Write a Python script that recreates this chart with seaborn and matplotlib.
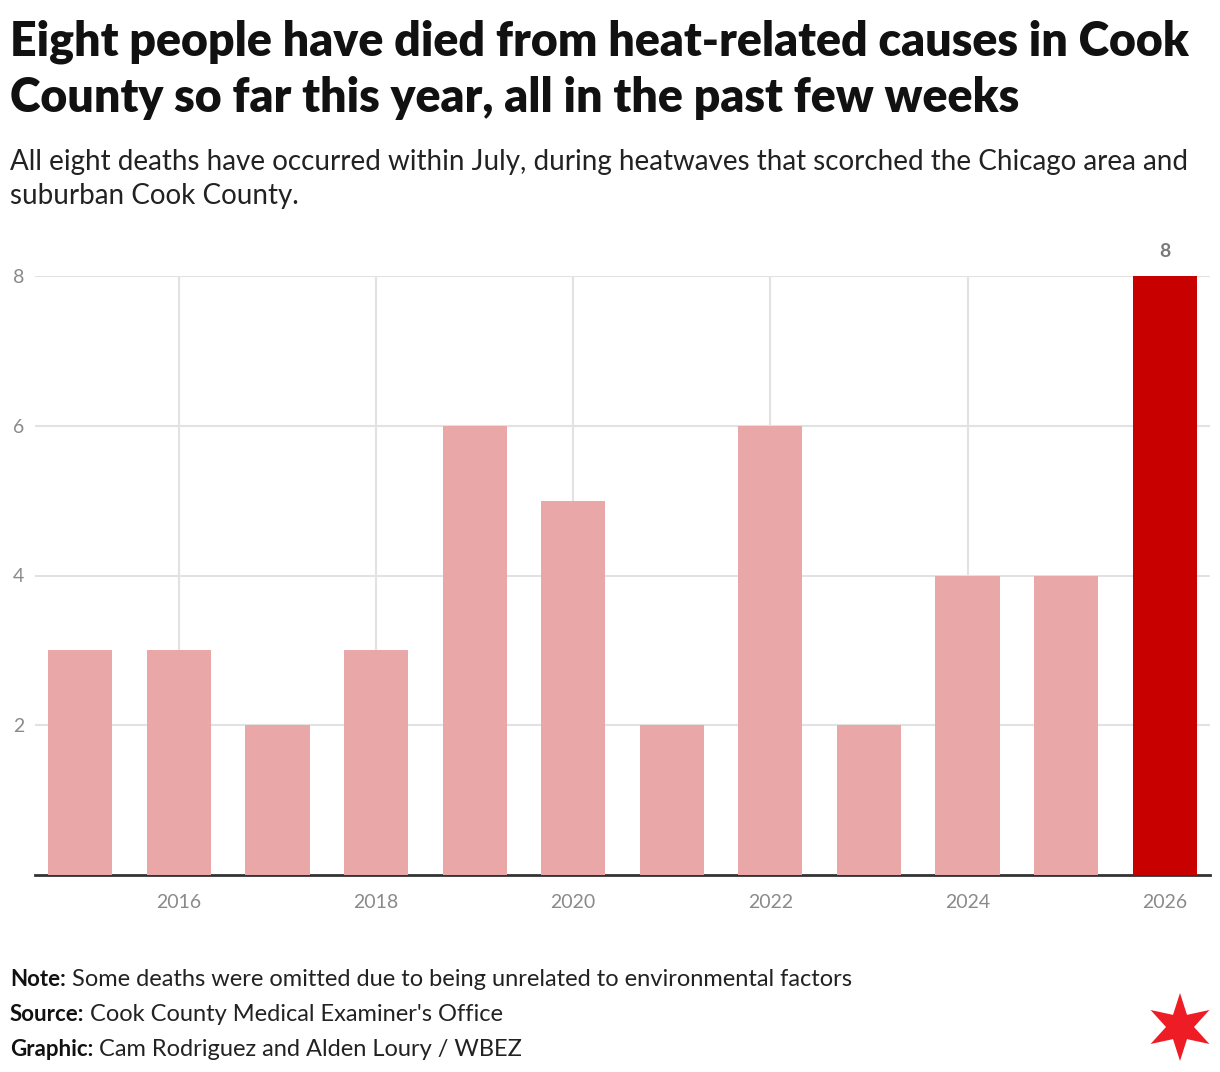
import numpy as np
import pandas as pd
import matplotlib
matplotlib.use("Agg")
import matplotlib.pyplot as plt
import seaborn as sns
from matplotlib.patches import Polygon

sns.set_style("white")
plt.rcParams['font.family'] = ['Lato', 'DejaVu Sans']

years = [2015, 2016, 2017, 2018, 2019, 2020, 2021, 2022, 2023, 2024, 2025, 2026]
deaths = [3, 3, 2, 3, 6, 5, 2, 6, 2, 4, 4, 8]
labeled_years = [2016, 2018, 2020, 2022, 2024, 2026]

light_red = '#eaa7a7'
dark_red = '#c80000'
grey_text = '#8a8a8a'
grid_col = '#e2e2e2'

df = pd.DataFrame({'year': [str(y) for y in years], 'deaths': deaths})
colors = [dark_red if y == years[-1] else light_red for y in years]

fig = plt.figure(figsize=(12.2, 10.72), dpi=100)
ax = fig.add_axes([35 / 1220, 1 - 875 / 1072, 1175 / 1220, (875 - 276) / 1072])

sns.barplot(data=df, x='year', y='deaths', hue='year', palette=colors,
            legend=False, width=0.65, ax=ax, zorder=3, saturation=1,
            linewidth=0, edgecolor='none')

ax.set_xlim(-0.46, len(years) - 0.54)
ax.set_ylim(0, 8)
ax.set_yticks([2, 4, 6, 8])
ax.set_yticklabels(['2', '4', '6', '8'])
tick_pos = [years.index(y) for y in labeled_years]
ax.set_xticks(tick_pos)
ax.set_xticklabels([str(y) for y in labeled_years])
ax.grid(True, color=grid_col, linewidth=1.5, zorder=0)
ax.set_axisbelow(True)
ax.tick_params(axis='both', length=0, labelcolor=grey_text, labelsize=14)
ax.tick_params(axis='x', pad=14)
ax.tick_params(axis='y', pad=12)
for lab in ax.get_yticklabels():
    lab.set_horizontalalignment('center')
for s in ['top', 'right', 'left']:
    ax.spines[s].set_visible(False)
ax.spines['bottom'].set_color('#333333')
ax.spines['bottom'].set_linewidth(2)
ax.set_xlabel('')
ax.set_ylabel('')

# value label on the latest bar
last = len(years) - 1
ax.text(last, deaths[last] + 0.22, str(deaths[last]), ha='center', va='bottom',
        color='#7a7a7a', fontsize=14, fontweight='bold', clip_on=False)

# titles
fig.text(10 / 1220, 1 - 19 / 1072,
         'Eight people have died from heat-related causes in Cook\nCounty so far this year, all in the past few weeks',
         ha='left', va='top', fontsize=33.5, fontweight='heavy', color='#111111',
         linespacing=1.34)
fig.text(10 / 1220, 1 - 149 / 1072,
         'All eight deaths have occurred within July, during heatwaves that scorched the Chicago area and\nsuburban Cook County.',
         ha='left', va='top', fontsize=20, color='#222222', linespacing=1.36)

# footer
footer = [('Note:', 'Some deaths were omitted due to being unrelated to environmental factors'),
          ('Source:', "Cook County Medical Examiner's Office"),
          ('Graphic:', 'Cam Rodriguez and Alden Loury / WBEZ')]
fig.canvas.draw()
renderer = fig.canvas.get_renderer()
for i, (lead, rest) in enumerate(footer):
    yy = 1 - (980 + 34.5 * i) / 1072
    t = fig.text(10 / 1220, yy, lead, ha='left', va='center', fontsize=16,
                 fontweight='bold', color='#111111')
    bb = t.get_window_extent(renderer)
    fig.text((bb.x1 + 6) / 1220, yy, rest, ha='left', va='center', fontsize=17,
             color='#222222')

# Chicago star logo
cx, cy, r_out, r_in = 1180, 1072 - 1027, 34, 14
ang = np.pi / 2 + np.arange(12) * np.pi / 6
rad = np.where(np.arange(12) % 2 == 0, r_out, r_in)
pts = np.column_stack([(cx + rad * np.cos(ang)) / 1220, (cy + rad * np.sin(ang)) / 1072])
fig.add_artist(Polygon(pts, closed=True, transform=fig.transFigure,
                       facecolor='#ee1c25', edgecolor='none'))

fig.savefig('out.png', dpi=100)
